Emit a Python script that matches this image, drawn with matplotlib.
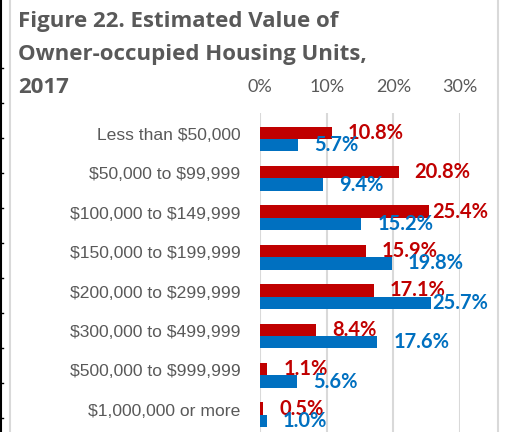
import numpy as np
import matplotlib
matplotlib.use('Agg')
import matplotlib.pyplot as plt
import matplotlib.transforms as mtransforms
from matplotlib.lines import Line2D

plt.rcParams['text.parse_math'] = False

categories = ['Less than $50,000', '$50,000 to $99,999', '$100,000 to $149,999',
              '$150,000 to $199,999', '$200,000 to $299,999', '$300,000 to $499,999',
              '$500,000 to $999,999', '$1,000,000 or more']
red_values = [10.8, 20.8, 25.4, 15.9, 17.1, 8.4, 1.1, 0.5]
blue_values = [5.7, 9.4, 15.2, 19.8, 25.7, 17.6, 5.6, 1.0]
x_ticks = [0, 10, 20, 30]
title_lines = ['Figure 22. Estimated Value of', 'Owner-occupied Housing Units,', '2017']

cat_font = ['Liberation Sans Narrow', 'Liberation Sans', 'DejaVu Sans']
body = ['Lato', 'DejaVu Sans']
heavy = ['Open Sans', 'DejaVu Sans']

RED = '#C00000'
BLUE = '#0070C0'
GRAY = '#595959'

W, H = 505, 432
fig = plt.figure(figsize=(W / 100, H / 100), dpi=100)

# axes placed in pixel terms
left, right = 260, 460
top, bottom = 113, 434.5
ax = fig.add_axes([left / W, (H - bottom) / H, (right - left) / W, (bottom - top) / H])

y = np.arange(len(categories))
bh = 0.317
ax.barh(y - bh / 2, red_values, height=bh, color=RED, zorder=3)
ax.barh(y + bh / 2, blue_values, height=bh, color=BLUE, zorder=3)

ax.set_xlim(0, 30)
ax.set_ylim(7.5, -0.66)
ax.set_xticks(x_ticks)
ax.set_xticklabels([f'{t}%' for t in x_ticks])
ax.xaxis.tick_top()
ax.tick_params(axis='x', length=0, pad=13, labelsize=13, labelcolor=GRAY)
for lab in ax.get_xticklabels():
    lab.set_family(body)
ax.set_yticks(y)
ax.set_yticklabels(categories)
ax.tick_params(axis='y', length=0, pad=14, labelsize=12.6, labelcolor=GRAY)
shift = mtransforms.ScaledTranslation(0, 5 / 100, fig.dpi_scale_trans)
for lab in ax.get_yticklabels():
    lab.set_family(cat_font)
    lab.set_transform(lab.get_transform() + shift)

ax.grid(axis='x', color='#D9D9D9', linewidth=1.5, zorder=0)
for s in ax.spines.values():
    s.set_visible(False)

# data labels
labels = []
for vals, col, dy in [(red_values, RED, -bh / 2), (blue_values, BLUE, bh / 2)]:
    for i, v in enumerate(vals):
        t = ax.annotate(f'{v:.1f}%', (v, i + dy), xytext=(11.5, 0), textcoords='offset points',
                        ha='left', va='center', color=col, fontsize=14.5, fontweight='bold',
                        family=body, zorder=4, annotation_clip=False)
        labels.append(t)

fig.canvas.draw()
r = fig.canvas.get_renderer()
limit = 488
for t in labels:
    bb = t.get_window_extent(r)
    if bb.x1 > limit:
        over = (bb.x1 - limit) * 72 / fig.dpi
        x0, y0 = t.xyann
        t.xyann = (x0 - over, y0)

# title
for k, line in enumerate(title_lines):
    fig.text(18 / W, 1 - (27 + 33 * k) / H, line, ha='left', va='baseline', fontsize=16,
             fontweight='bold', color=GRAY, family=heavy)

# chart frame and page edge
fig.add_artist(Line2D([9.5 / W, 9.5 / W], [0, 1], color='#D9D9D9', linewidth=1.5))
fig.add_artist(Line2D([497.5 / W, 497.5 / W], [0, 1], color='#D9D9D9', linewidth=1.5))
fig.add_artist(Line2D([1 / W, 1 / W], [0, 1], color='black', linewidth=1.5))
for yy in np.arange(68, 432, 35):
    fig.add_artist(Line2D([0, 3 / W], [1 - yy / H, 1 - yy / H], color='black', linewidth=1))

fig.savefig('out.png', dpi=100)
